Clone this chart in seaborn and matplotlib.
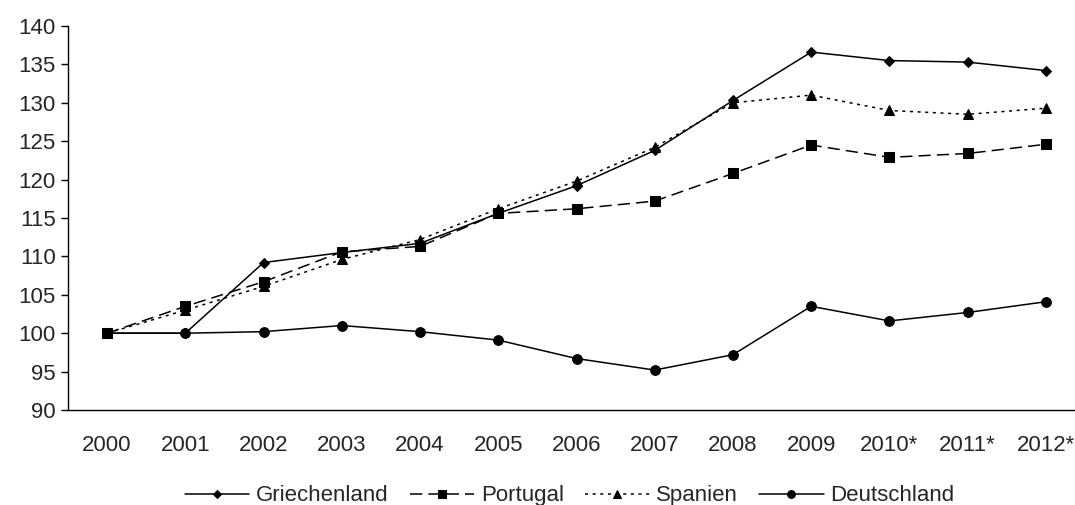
import matplotlib
matplotlib.use("Agg")
import matplotlib.pyplot as plt
import pandas as pd
import seaborn as sns

years = ["2000", "2001", "2002", "2003", "2004", "2005", "2006",
         "2007", "2008", "2009", "2010*", "2011*", "2012*"]
griechenland = [100.0, 100.0, 109.2, 110.5, 111.7, 115.6, 119.2,
                123.8, 130.3, 136.6, 135.5, 135.3, 134.2]
portugal = [100.0, 103.5, 106.7, 110.6, 111.3, 115.6, 116.2,
            117.2, 120.8, 124.5, 122.9, 123.4, 124.6]
spanien = [100.0, 103.0, 106.1, 109.6, 112.2, 116.2, 119.8,
           124.2, 130.0, 131.0, 129.0, 128.5, 129.3]
deutschland = [100.0, 100.0, 100.2, 101.0, 100.2, 99.1, 96.7,
               95.2, 97.2, 103.5, 101.6, 102.7, 104.1]

series = ["Griechenland", "Portugal", "Spanien", "Deutschland"]

rows = []
for name, vals in zip(series, [griechenland, portugal, spanien, deutschland]):
    for i, v in enumerate(vals):
        rows.append({"pos": i, "value": v, "land": name})
df = pd.DataFrame(rows)

sns.set_style("white")
plt.rcParams["font.family"] = ["Liberation Sans", "DejaVu Sans"]

fig = plt.figure(figsize=(10.75, 5.05), dpi=100)
ax = fig.add_axes([68 / 1075, (505 - 410) / 505, (1085 - 68) / 1075, (410 - 26) / 505])

sns.lineplot(
    data=df, x="pos", y="value", hue="land", style="land",
    hue_order=series, style_order=series,
    palette=["black"] * 4,
    markers={"Griechenland": "D", "Portugal": "s", "Spanien": "^", "Deutschland": "o"},
    dashes={"Griechenland": "", "Portugal": (8, 4), "Spanien": (2, 3), "Deutschland": ""},
    linewidth=1.1, markersize=7, markeredgecolor="black",
    ax=ax, legend=False,
)

# diamonds are a bit smaller in the original
for line in ax.lines:
    if line.get_marker() == "D":
        line.set_markersize(5.5)

ax.set_xlim(-0.5, 12.5)
ax.set_ylim(90, 140)
ax.set_yticks(range(90, 141, 5))
ax.set_xticks(range(len(years)))
ax.set_xticklabels(years)
ax.set_xticks([i + 0.5 for i in range(-1, len(years))], minor=True)
ax.tick_params(axis="x", which="major", length=0, pad=18, labelsize=16)
ax.tick_params(axis="x", which="minor", length=5, width=1, direction="out", color="black")
ax.tick_params(axis="y", length=5, width=1, direction="out", color="black", labelsize=16,
               left=True, pad=4)
ax.set_xlabel("")
ax.set_ylabel("")
for side in ["top", "right"]:
    ax.spines[side].set_visible(False)
for side in ["left", "bottom"]:
    ax.spines[side].set_color("black")
    ax.spines[side].set_linewidth(1)

handles = ax.lines[:4]
fig.legend(handles, series, loc="center", bbox_to_anchor=(0.530, 0.018), ncol=4,
           frameon=False, fontsize=16, handlelength=2.9, columnspacing=0.95,
           handletextpad=0.3, borderaxespad=0, markerscale=0.8)

fig.savefig("out.png", dpi=100)
